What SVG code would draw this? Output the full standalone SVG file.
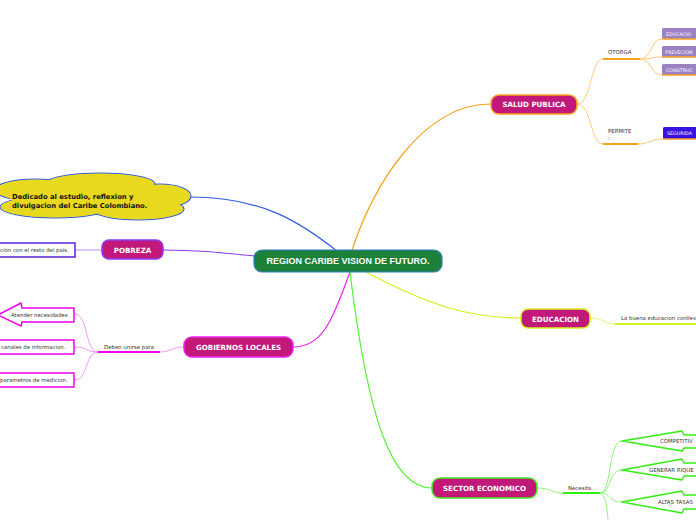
<svg xmlns="http://www.w3.org/2000/svg" width="696" height="520" viewBox="0 0 696 520">
<style>
text{font-family:"DejaVu Sans",Verdana,sans-serif}
.c{fill:none}
.main{fill:#c2187a;stroke-width:1.5}
.mt{fill:#fff;font-weight:bold;font-size:7.1px;text-anchor:middle}
.s{font-size:5.4px;fill:#333}
.pb{fill:#9b80c4}
.wt{fill:#fff;font-size:4.8px}
</style>
<rect width="696" height="520" fill="#fff"/>
<g id="connectors">
<path class="c" d="M352,250 C372,190 420,104 491,104" stroke="#f7a21c" stroke-width="1.2"/>
<path class="c" d="M337,251 C300,222 262,197 190,197" stroke="#2d5be6" stroke-width="1.2"/>
<path class="c" d="M255,256 C215,252 195,250 163,250" stroke="#8a3cf5" stroke-width="1.2"/>
<path class="c" d="M350,272 C332,322 322,347 293,347" stroke="#ee22ee" stroke-width="1.2"/>
<path class="c" d="M366,272 C430,306 470,318 521,318" stroke="#d6f21e" stroke-width="1.2"/>
<path class="c" d="M350,272 C368,420 392,488 432,488" stroke="#55f233" stroke-width="1.2"/>
<path class="c" d="M577,104 C592,104 590,59 603,59" stroke="#ffca7a"/>
<path class="c" d="M577,104 C592,104 590,144 603,144" stroke="#ffca7a"/>
<line x1="603" y1="59" x2="640" y2="59" stroke="#f7a21c" stroke-width="2"/>
<line x1="603" y1="144" x2="638" y2="144" stroke="#f7a21c" stroke-width="2"/>
<path class="c" d="M640,59 C652,59 650,39 662,39" stroke="#ffca7a"/>
<path class="c" d="M640,59 C652,59 650,57 662,57" stroke="#ffca7a"/>
<path class="c" d="M640,59 C652,59 650,75 662,75" stroke="#ffca7a"/>
<path class="c" d="M638,144 C650,144 650,139 663,139" stroke="#ffca7a"/>
<path class="c" d="M590,318 C605,318 603,324 615,324" stroke="#e4fa70"/>
<line x1="615" y1="324" x2="696" y2="324" stroke="#d6f21e" stroke-width="2"/>
<path class="c" d="M537,488 C552,488 550,493 563,493" stroke="#8ef57a"/>
<line x1="563" y1="493" x2="600" y2="493" stroke="#33ee11" stroke-width="2"/>
<path class="c" d="M600,493 C612,493 608,441 622,441" stroke="#8ef57a"/>
<path class="c" d="M600,493 C612,493 608,470 622,470" stroke="#8ef57a"/>
<path class="c" d="M600,493 C612,493 608,502 622,502" stroke="#8ef57a"/>
<path class="c" d="M600,493 C606,495 607,508 608,520" stroke="#8ef57a"/>
<path class="c" d="M184,347 C172,347 170,352 160,352" stroke="#f59af5"/>
<line x1="98" y1="352" x2="160" y2="352" stroke="#ee00ee" stroke-width="2"/>
<path class="c" d="M98,352 C85,352 88,314 75,314" stroke="#f59af5"/>
<path class="c" d="M98,352 C85,352 88,347 75,347" stroke="#f59af5"/>
<path class="c" d="M98,352 C85,352 88,380 75,380" stroke="#f59af5"/>
<line x1="75" y1="250" x2="102" y2="250" stroke="#b894fa"/>
</g>
<g id="center">
<rect x="254" y="250" width="188" height="22" rx="8" fill="#1c8038" stroke="#2f7fc0" stroke-width="1.2"/>
<text x="348" y="264.2" fill="#fff" font-weight="bold" font-size="9" text-anchor="middle" style="font-family:'Liberation Sans',Arial,sans-serif">REGION CARIBE VISION DE FUTURO.</text>
</g>
<g id="salud">
<rect class="main" x="491" y="95" width="86" height="19" rx="8" stroke="#f7a21c"/>
<text class="mt" x="534" y="107">SALUD PUBLICA</text>
</g>
<g id="otorga"><text class="s" x="608" y="54">OTORGA</text></g>
<g id="permite"><text class="s" x="608" y="133">PERMITE</text><text class="s" x="608" y="140">:</text></g>
<g id="educacio">
<rect class="pb" x="662" y="28" width="40" height="11" rx="1.5"/>
<line x1="662" y1="39" x2="696" y2="39" stroke="#f7a21c" stroke-width="1.5"/>
<text class="wt" x="666" y="35.5">EDUCACIO</text>
</g>
<g id="prevecion">
<rect class="pb" x="662" y="46" width="40" height="11" rx="1.5"/>
<line x1="662" y1="57" x2="696" y2="57" stroke="#f7a21c" stroke-width="1.5"/>
<text class="wt" x="665" y="53.5">PREVECION</text>
</g>
<g id="construc">
<rect class="pb" x="662" y="64" width="40" height="11" rx="1.5"/>
<line x1="662" y1="75" x2="696" y2="75" stroke="#f7a21c" stroke-width="1.5"/>
<text class="wt" x="666" y="71.5">CONSTRUC</text>
</g>
<g id="seguridad">
<rect x="663" y="127" width="40" height="12" rx="1.5" fill="#3a12e0"/>
<line x1="663" y1="139" x2="696" y2="139" stroke="#f7a21c" stroke-width="1.5"/>
<text class="wt" x="667" y="135">SEGURIDA</text>
</g>
<g id="cloud">
<g fill="#e8d91e" stroke="#2d5be6" stroke-width="1.2">
<ellipse cx="100" cy="184" rx="55" ry="11"/>
<ellipse cx="35" cy="190" rx="40" ry="11"/>
<ellipse cx="160" cy="196" rx="31" ry="12"/>
<ellipse cx="55" cy="207" rx="55" ry="11"/>
<ellipse cx="138" cy="209" rx="46" ry="11"/>
</g>
<g fill="#e8d91e">
<ellipse cx="100" cy="184" rx="54.3" ry="10.3"/>
<ellipse cx="35" cy="190" rx="39.3" ry="10.3"/>
<ellipse cx="160" cy="196" rx="30.3" ry="11.3"/>
<ellipse cx="55" cy="207" rx="54.3" ry="10.3"/>
<ellipse cx="138" cy="209" rx="45.3" ry="10.3"/>
<ellipse cx="95" cy="198" rx="85" ry="13"/>
</g>
<text x="12" y="199" font-weight="bold" font-size="6.8" fill="#111">Dedicado al estudio, reflexion y</text>
<text x="12" y="207.5" font-weight="bold" font-size="6.8" fill="#111">divulgacion del Caribe Colombiano.</text>
</g>
<g id="pobreza">
<rect class="main" x="102" y="240" width="61" height="19" rx="7" stroke="#8a3cf5"/>
<text class="mt" x="132.5" y="252.5">POBREZA</text>
</g>
<g id="pobreza-child">
<rect x="-3" y="243" width="78" height="14" fill="#fff" stroke="#5a20d8" stroke-width="1.5"/>
<text class="s" x="0" y="252" fill="#222">ción con el resto del país.</text>
</g>
<g id="gobiernos">
<rect class="main" x="184" y="337" width="109" height="20" rx="8" stroke="#ee22ee"/>
<text class="mt" x="238.5" y="349.5">GOBIERNOS LOCALES</text>
</g>
<g id="deben"><text class="s" x="104" y="349">Deben unirse para</text></g>
<g id="atender">
<path d="M74,308 L74,322 L22,322 L21,326 L-2,315 L21,303 L22,308 Z" fill="#fff" stroke="#ee00ee" stroke-width="1.5" stroke-linejoin="round"/>
<text class="s" x="11" y="316.5" fill="#222">Atender necesidades</text>
</g>
<g id="canales">
<rect x="-3" y="340" width="77" height="14" fill="#fff" stroke="#ee00ee" stroke-width="1.5"/>
<text class="s" x="1" y="349" fill="#222">canales de informacion.</text>
</g>
<g id="parametros">
<rect x="-3" y="373" width="77" height="14" fill="#fff" stroke="#ee00ee" stroke-width="1.5"/>
<text class="s" x="0" y="382" fill="#222">parametros de medicion.</text>
</g>
<g id="educacion">
<rect class="main" x="521" y="309" width="69" height="19" rx="7" stroke="#d6f21e"/>
<text class="mt" x="555.5" y="321.5">EDUCACION</text>
</g>
<g id="buena"><text class="s" x="621" y="320">La buena educacion conllev</text></g>
<g id="sector">
<rect class="main" x="432" y="478" width="105" height="20" rx="8" stroke="#44ee22"/>
<text class="mt" x="484.5" y="490.5">SECTOR ECONOMICO</text>
</g>
<g id="necesita"><text class="s" x="568" y="490">Necesita</text></g>
<g id="competitiv">
<path d="M622,441 L682,431 L684,435 L700,435 L700,448 L684,448 L682,451 Z" fill="#fff" stroke="#33ee11" stroke-width="1.5" stroke-linejoin="round"/>
<text class="s" x="660" y="443">COMPETITIV</text>
</g>
<g id="generar">
<path d="M622,470 L682,459 L684,463 L700,463 L700,476 L684,476 L682,480 Z" fill="#fff" stroke="#33ee11" stroke-width="1.5" stroke-linejoin="round"/>
<text class="s" x="649" y="472">GENERAR RIQUE</text>
</g>
<g id="altas">
<path d="M622,502 L682,491 L684,495 L700,495 L700,509 L684,509 L682,513 Z" fill="#fff" stroke="#33ee11" stroke-width="1.5" stroke-linejoin="round"/>
<text class="s" x="658" y="504">ALTAS TASAS</text>
</g>
</svg>
